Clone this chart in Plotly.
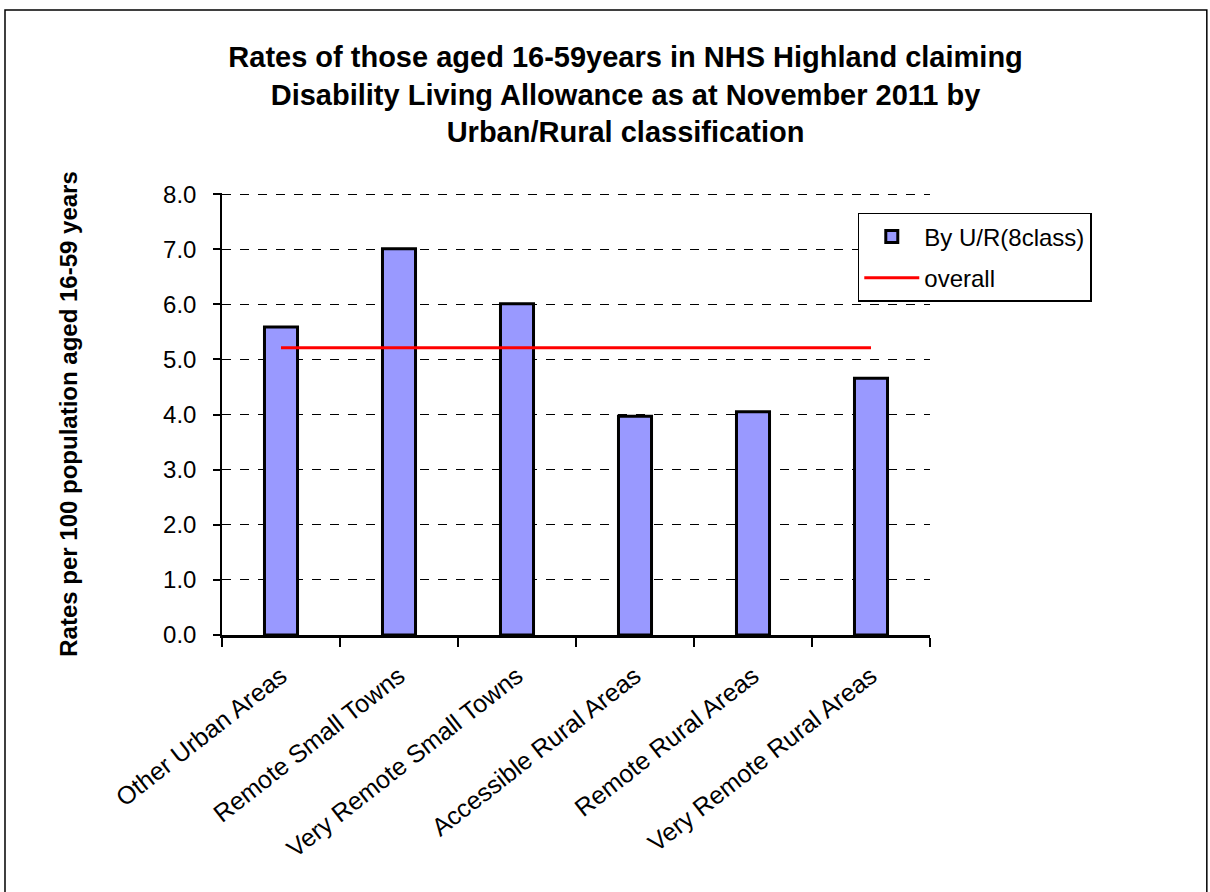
import plotly.graph_objects as go

categories = ["Other Urban Areas", "Remote Small Towns", "Very Remote Small Towns",
              "Accessible Rural Areas", "Remote Rural Areas", "Very Remote Rural Areas"]
rates = [5.59, 7.01, 6.01, 3.97, 4.05, 4.66]
overall = [5.21] * len(categories)
yticks = [0, 1, 2, 3, 4, 5, 6, 7, 8]

FONT = "Liberation Sans, Arial, sans-serif"

fig = go.Figure()
fig.add_trace(go.Bar(
    x=categories, y=rates, name="By U/R(8class)", width=0.28, legendgroup="a",
    marker=dict(color="#9999FF", line=dict(color="black", width=3)),
))
fig.add_trace(go.Scatter(
    x=categories, y=overall, name="overall", mode="lines", legendgroup="b",
    line=dict(color="#FF0000", width=3),
))

fig.update_layout(
    width=1210, height=892,
    margin=dict(l=222, r=280, t=193, b=257),
    paper_bgcolor="white", plot_bgcolor="white",
    font=dict(family=FONT, color="black", size=22),
    title=dict(
        text="Rates of those aged 16-59years in NHS Highland claiming<br>Disability Living Allowance as at November 2011 by<br>Urban/Rural classification",
        x=0.517, xanchor="center", xref="container",
        y=0.925, yanchor="top", yref="container",
        font=dict(family=FONT, size=29, color="black", weight="bold"),
    ),
    showlegend=True,
    legend=dict(
        x=0.898, y=0.955, xanchor="left", yanchor="top",
        bordercolor="black", borderwidth=1.5, bgcolor="white",
        font=dict(family=FONT, size=24, color="black"),
        traceorder="grouped", tracegroupgap=7, itemwidth=55,
    ),
)

fig.update_xaxes(
    type="category", tickangle=-38, tickson="boundaries",
    ticks="outside", ticklen=9, tickwidth=1.5, tickcolor="black",
    showline=True, linecolor="black", linewidth=2.5,
    showgrid=False, ticklabelstandoff=14,
    tickfont=dict(family=FONT, size=25, color="black"),
)
fig.update_yaxes(
    range=[0, 8.02], tickvals=yticks, ticktext=[f"{v:.1f}" for v in yticks],
    ticks="outside", ticklen=7, tickwidth=1.5, tickcolor="black",
    showline=True, linecolor="black", linewidth=1.5,
    showgrid=True, gridcolor="black", gridwidth=1, griddash="dash",
    zeroline=False, ticklabelstandoff=12,
    tickfont=dict(family=FONT, size=24, color="black"),
    title=dict(text="<b>Rates per 100 population aged 16-59 years</b>",
               font=dict(family=FONT, size=24, color="black"), standoff=79),
)

fig.add_shape(type="rect", xref="paper", yref="paper",
              x0=-0.3065, x1=1.391, y0=-0.6, y1=1.414,
              line=dict(color="black", width=1.5), fillcolor="rgba(0,0,0,0)", layer="below")

fig.write_html("out.html")
